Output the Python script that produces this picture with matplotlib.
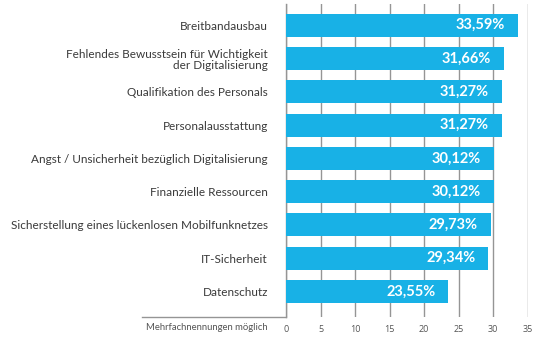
import matplotlib
matplotlib.use('Agg')
import matplotlib.pyplot as plt
from matplotlib.lines import Line2D

categories = [
    'Breitbandausbau',
    'Fehlendes Bewusstsein für Wichtigkeit\nder Digitalisierung',
    'Qualifikation des Personals',
    'Personalausstattung',
    'Angst / Unsicherheit bezüglich Digitalisierung',
    'Finanzielle Ressourcen',
    'Sicherstellung eines lückenlosen Mobilfunknetzes',
    'IT-Sicherheit',
    'Datenschutz',
]
values = [33.59, 31.66, 31.27, 31.27, 30.12, 30.12, 29.73, 29.34, 23.55]
xticks = [0, 5, 10, 15, 20, 25, 30, 35]

bar_color = '#18b1e6'
grid_color = '#959595'
text_color = '#3a3a3a'

fig = plt.figure(figsize=(5.4, 3.43), dpi=100)
ax = fig.add_axes([286 / 540, 1 - 317 / 343, (527.5 - 286) / 540, (317 - 4) / 343])

ypos = list(range(len(categories)))
ax.barh(ypos, values, height=0.69, color=bar_color, zorder=3)

ax.set_xlim(0, 35)
ax.set_ylim(8.77, -0.64)

ax.set_xticks(xticks)
ax.set_xticklabels([str(t) for t in xticks], fontsize=6.5, color='#555555', family='Open Sans')
ax.tick_params(axis='x', length=0, pad=6)
ax.set_yticks(ypos)
ax.set_yticklabels(categories, fontsize=8.45, color=text_color, family='Lato', linespacing=1.1)
ax.tick_params(axis='y', length=0, pad=13)

ax.grid(axis='x', color=grid_color, linewidth=1.0, zorder=0)
for s in ['top', 'right', 'bottom']:
    ax.spines[s].set_visible(False)
ax.spines['left'].set_color(grid_color)
ax.spines['left'].set_linewidth(1.0)

for y, v in zip(ypos, values):
    ax.text(v - 1.9, y, f'{v:.2f}%'.replace('.', ','), ha='right', va='center',
            color='white', fontsize=10.5, fontweight='bold', family='Lato', zorder=4)

# bracket line under the category labels
fig.add_artist(Line2D([142 / 540, 286 / 540], [1 - 317 / 343, 1 - 317 / 343],
                      color=grid_color, linewidth=1.0))
fig.text(268 / 540, 1 - 327 / 343, 'Mehrfachnennungen möglich', ha='right', va='center',
         fontsize=6.8, color='#555555', family='Lato')

fig.savefig('out.png', dpi=100)
